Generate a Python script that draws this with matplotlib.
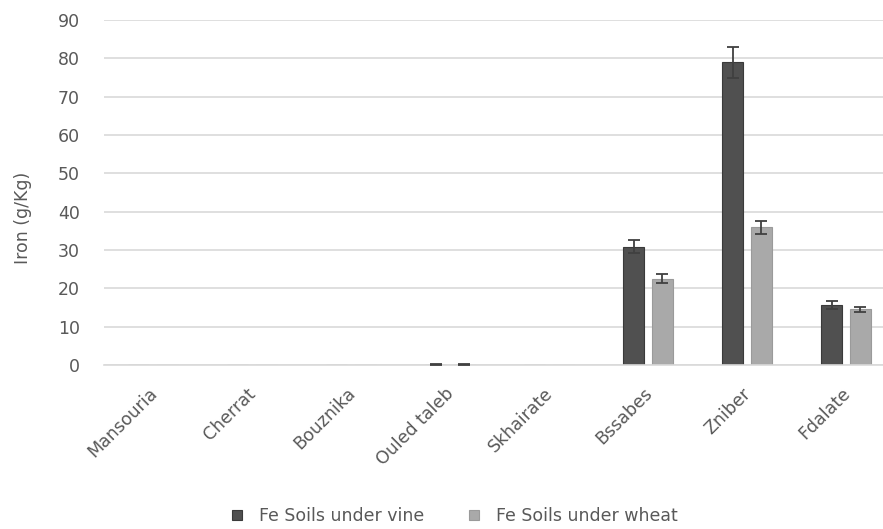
import matplotlib
matplotlib.use("Agg")
import matplotlib.pyplot as plt
import matplotlib.transforms as mtransforms
import numpy as np

categories = ["Mansouria", "Cherrat", "Bouznika", "Ouled taleb", "Skhairate", "Bssabes", "Zniber", "Fdalate"]
vine = [0, 0, 0, 0.1, 0, 30.9, 79.0, 15.7]
vine_err = [0, 0, 0, 0.2, 0, 1.7, 4.0, 1.0]
wheat = [0, 0, 0, 0.1, 0, 22.5, 35.9, 14.5]
wheat_err = [0, 0, 0, 0.2, 0, 1.2, 1.7, 0.7]
series_labels = ["Fe Soils under vine", "Fe Soils under wheat"]
yticks = [0, 10, 20, 30, 40, 50, 60, 70, 80, 90]

plt.rcParams['font.family'] = ['DejaVu Sans']

W, H = 883, 529
fig = plt.figure(figsize=(W / 100, H / 100), dpi=100)
left, right, bottom, top = 103.5, 895.5, 365, 20
ax = fig.add_axes([left / W, 1 - bottom / H, (right - left) / W, (bottom - top) / H])

x = np.arange(len(categories))
bw = 0.217
off = 0.146
b1 = ax.bar(x - off, vine, bw, color="#505050", edgecolor="#3a3a3a", linewidth=0.8,
            label=series_labels[0], zorder=2)
b2 = ax.bar(x + off, wheat, bw, color="#a9a9a9", edgecolor="#9a9a9a", linewidth=0.8,
            label=series_labels[1], zorder=2)
for xs, v, e, ec in [(x - off, vine, vine_err, "#404040"), (x + off, wheat, wheat_err, "#404040")]:
    m = np.array(e) > 0
    ax.errorbar(xs[m], np.array(v)[m], yerr=np.array(e)[m], fmt="none", zorder=3,
                ecolor=ec, elinewidth=1.3, capsize=4.3, capthick=1.3)

ax.set_xlim(-0.5, len(categories) - 0.5)
ax.set_ylim(0, 90)
ax.set_yticks(yticks)
ax.yaxis.grid(True, color="#d9d9d9", linewidth=1.2, zorder=0)
ax.set_axisbelow(True)
for s in ["top", "right", "left"]:
    ax.spines[s].set_visible(False)
ax.spines["bottom"].set_color("#d9d9d9")
ax.spines["bottom"].set_linewidth(1.2)
ax.tick_params(axis="y", length=0, pad=17, labelsize=12.5, labelcolor="#595959")
ax.tick_params(axis="x", length=0, pad=14, labelsize=12.5, labelcolor="#595959")
ax.set_xticks(x)
ax.set_xticklabels(categories, rotation=45, ha="right", rotation_mode="anchor")
shift = mtransforms.ScaledTranslation(-5 / 100, 0, fig.dpi_scale_trans)
for lab in ax.get_xticklabels():
    lab.set_transform(lab.get_transform() + shift)

ax.set_ylabel("Iron (g/Kg)", fontsize=12.5, color="#595959")
ax.yaxis.set_label_coords(-0.090, 0.426)

fig.legend(handles=[b1, b2], labels=series_labels, loc="center", bbox_to_anchor=(455 / W, 1 - 516 / H),
           ncol=2, frameon=False, fontsize=12.5, labelcolor="#595959", handlelength=0.55, handleheight=0.55,
           handletextpad=1.0, columnspacing=2.6)

fig.savefig("out.png", dpi=100)
